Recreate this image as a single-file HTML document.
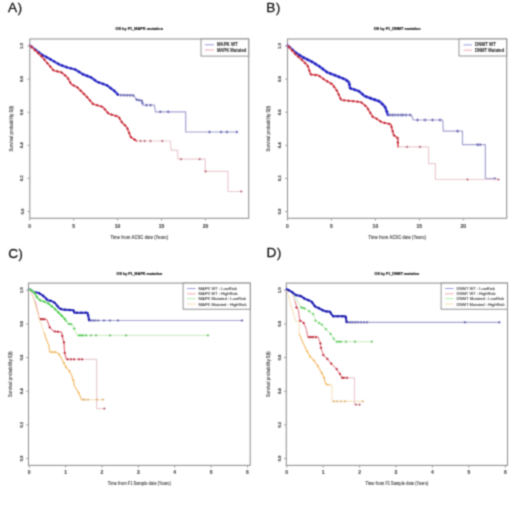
<!DOCTYPE html><html><head><meta charset="utf-8"><style>html,body{margin:0;padding:0;background:#fff;width:520px;height:508px;overflow:hidden}svg{display:block;font-family:"Liberation Sans",sans-serif}</style></head><body>
<svg width="520" height="508" viewBox="0 0 520 508">
<defs><filter id="bl" x="0" y="0" width="520" height="508" filterUnits="userSpaceOnUse" color-interpolation-filters="sRGB"><feConvolveMatrix order="3" kernelMatrix="0.0400 0.1200 0.0400 0.1200 0.3600 0.1200 0.0400 0.1200 0.0400" edgeMode="duplicate" preserveAlpha="true"/></filter></defs>
<g filter="url(#bl)">
<rect width="520" height="508" fill="#fff"/>
<rect x="29.8" y="39" width="218.9" height="179.3" fill="none" stroke="#959595" stroke-width="1.1"/>
<line x1="27.5" y1="211.5" x2="29.8" y2="211.5" stroke="#959595" stroke-width="0.9"/>
<text x="22" y="211.5" font-size="4.4" text-anchor="middle" fill="#505050" stroke="#505050" stroke-width="0.2" font-weight="bold" textLength="5.8" lengthAdjust="spacingAndGlyphs" transform="rotate(-90 22 211.5)" dominant-baseline="central">0.0</text>
<line x1="27.5" y1="178.42" x2="29.8" y2="178.42" stroke="#959595" stroke-width="0.9"/>
<text x="22" y="178.42" font-size="4.4" text-anchor="middle" fill="#505050" stroke="#505050" stroke-width="0.2" font-weight="bold" textLength="5.8" lengthAdjust="spacingAndGlyphs" transform="rotate(-90 22 178.42)" dominant-baseline="central">0.2</text>
<line x1="27.5" y1="145.34" x2="29.8" y2="145.34" stroke="#959595" stroke-width="0.9"/>
<text x="22" y="145.34" font-size="4.4" text-anchor="middle" fill="#505050" stroke="#505050" stroke-width="0.2" font-weight="bold" textLength="5.8" lengthAdjust="spacingAndGlyphs" transform="rotate(-90 22 145.34)" dominant-baseline="central">0.4</text>
<line x1="27.5" y1="112.26" x2="29.8" y2="112.26" stroke="#959595" stroke-width="0.9"/>
<text x="22" y="112.26" font-size="4.4" text-anchor="middle" fill="#505050" stroke="#505050" stroke-width="0.2" font-weight="bold" textLength="5.8" lengthAdjust="spacingAndGlyphs" transform="rotate(-90 22 112.26)" dominant-baseline="central">0.6</text>
<line x1="27.5" y1="79.18" x2="29.8" y2="79.18" stroke="#959595" stroke-width="0.9"/>
<text x="22" y="79.18" font-size="4.4" text-anchor="middle" fill="#505050" stroke="#505050" stroke-width="0.2" font-weight="bold" textLength="5.8" lengthAdjust="spacingAndGlyphs" transform="rotate(-90 22 79.18)" dominant-baseline="central">0.8</text>
<line x1="27.5" y1="46.1" x2="29.8" y2="46.1" stroke="#959595" stroke-width="0.9"/>
<text x="22" y="46.1" font-size="4.4" text-anchor="middle" fill="#505050" stroke="#505050" stroke-width="0.2" font-weight="bold" textLength="5.8" lengthAdjust="spacingAndGlyphs" transform="rotate(-90 22 46.1)" dominant-baseline="central">1.0</text>
<line x1="29.72" y1="218.3" x2="29.72" y2="220.6" stroke="#959595" stroke-width="0.9"/>
<text x="29.72" y="226.3" font-size="5" text-anchor="middle" fill="#505050" stroke="#505050" stroke-width="0.15" font-weight="bold" dominant-baseline="central">0</text>
<line x1="73.65" y1="218.3" x2="73.65" y2="220.6" stroke="#959595" stroke-width="0.9"/>
<text x="73.65" y="226.3" font-size="5" text-anchor="middle" fill="#505050" stroke="#505050" stroke-width="0.15" font-weight="bold" dominant-baseline="central">5</text>
<line x1="117.58" y1="218.3" x2="117.58" y2="220.6" stroke="#959595" stroke-width="0.9"/>
<text x="117.58" y="226.3" font-size="5" text-anchor="middle" fill="#505050" stroke="#505050" stroke-width="0.15" font-weight="bold" dominant-baseline="central">10</text>
<line x1="161.51" y1="218.3" x2="161.51" y2="220.6" stroke="#959595" stroke-width="0.9"/>
<text x="161.51" y="226.3" font-size="5" text-anchor="middle" fill="#505050" stroke="#505050" stroke-width="0.15" font-weight="bold" dominant-baseline="central">15</text>
<line x1="205.44" y1="218.3" x2="205.44" y2="220.6" stroke="#959595" stroke-width="0.9"/>
<text x="205.44" y="226.3" font-size="5" text-anchor="middle" fill="#505050" stroke="#505050" stroke-width="0.15" font-weight="bold" dominant-baseline="central">20</text>
<text x="139.25" y="28.4" font-size="4.4" text-anchor="middle" fill="#222" stroke="#222" stroke-width="0.2" font-weight="bold" textLength="47.6" lengthAdjust="spacingAndGlyphs" dominant-baseline="central">OS by F1_MAPK mutation</text>
<text x="139.25" y="237.3" font-size="4.5" text-anchor="middle" fill="#555" stroke="#555" stroke-width="0.05" font-weight="bold" textLength="57.7" lengthAdjust="spacingAndGlyphs" dominant-baseline="central">Time from ACSC date (Years)</text>
<text x="11.3" y="128.65" font-size="4.5" text-anchor="middle" fill="#555" stroke="#555" stroke-width="0.05" font-weight="bold" textLength="45.7" lengthAdjust="spacingAndGlyphs" transform="rotate(-90 11.3 128.65)" dominant-baseline="central">Survival probability S(t)</text>
<rect x="201" y="39" width="47.7" height="17.1" fill="#fff" stroke="#888" stroke-width="0.9"/>
<line x1="204.8" y1="44.8" x2="214" y2="44.8" stroke="#9090e0" stroke-width="0.9"/>
<text x="216.9" y="44.8" font-size="4.6" text-anchor="start" fill="#333" stroke="#333" stroke-width="0.1" font-weight="bold" textLength="20.8" lengthAdjust="spacingAndGlyphs" dominant-baseline="central">MAPK WT</text>
<line x1="204.8" y1="50" x2="214" y2="50" stroke="#f0a0a8" stroke-width="0.9"/>
<text x="216.9" y="50" font-size="4.6" text-anchor="start" fill="#333" stroke="#333" stroke-width="0.1" font-weight="bold" textLength="29.4" lengthAdjust="spacingAndGlyphs" dominant-baseline="central">MAPK Mutated</text>
<path d="M30 45.5 L41.8 54.7 L47.7 57.7 L59.5 64.6 L67.4 67.5 L75.2 69.5 L83.1 74.4 L91 77.4 L96.9 81.7 L106.7 85.2 L114.6 91.1 L118 94.8 H133.7 V95.7 L136.7 99.7 L141.6 100.7 L142.6 105.2 L154.4 105.2 L155.4 111.8 H185.3 V111.8 H185.7 V132 H237.3 V132" fill="none" stroke="#a6a4d2" stroke-width="1.2" stroke-linejoin="round"/>
<path d="M30 45.5 L41.8 54.7 L47.7 57.7 L59.5 64.6 L67.4 67.5 L75.2 69.5 L83.1 74.4 L91 77.4 L96.9 81.7 L106.7 85.2 L114.6 91.1 L118 94.8" fill="none" stroke="#4040d8" stroke-width="2.2" stroke-linejoin="round" stroke-linecap="round"/>
<path d="M30.37 46.88h2.8M31.77 45.48v2.8M33.92 49.65h2.8M35.32 48.25v2.8M37.47 52.42h2.8M38.87 51.02v2.8M41.1 55.06h2.8M42.5 53.66v2.8M45.11 57.1h2.8M46.51 55.7v2.8M49.04 59.3h2.8M50.44 57.9v2.8M52.92 61.57h2.8M54.32 60.17v2.8M56.8 63.84h2.8M58.2 62.44v2.8M60.92 65.63h2.8M62.32 64.23v2.8M65.14 67.18h2.8M66.54 65.78v2.8M69.47 68.39h2.8M70.87 66.99v2.8M73.83 69.52h2.8M75.23 68.12v2.8M77.65 71.89h2.8M79.05 70.49v2.8M81.47 74.26h2.8M82.87 72.86v2.8M85.66 75.9h2.8M87.06 74.5v2.8M89.83 77.57h2.8M91.23 76.17v2.8M93.47 80.22h2.8M94.87 78.82v2.8M97.37 82.37h2.8M98.77 80.97v2.8M101.61 83.88h2.8M103.01 82.48v2.8M105.76 85.55h2.8M107.16 84.15v2.8M109.37 88.24h2.8M110.77 86.84v2.8M112.97 90.93h2.8M114.37 89.53v2.8M116.05 94.21h2.8M117.45 92.81v2.8" stroke="#1c1cac" stroke-width="0.9" fill="none"/>
<path d="M119.6 95.2h2.8M121 93.8v2.8M122.6 95.3h2.8M124 93.9v2.8M125.6 95.4h2.8M127 94v2.8M128.6 95.5h2.8M130 94.1v2.8M131.6 95.6h2.8M133 94.2v2.8M135.3 99.7h2.8M136.7 98.3v2.8M137.6 100.2h2.8M139 98.8v2.8M140.2 100.7h2.8M141.6 99.3v2.8M141.2 103h2.8M142.6 101.6v2.8M145.1 105.2h2.8M146.5 103.8v2.8M149.1 105.2h2.8M150.5 103.8v2.8M158.9 111.8h2.8M160.3 110.4v2.8M166.8 111.8h2.8M168.2 110.4v2.8M208.1 132h2.8M209.5 130.6v2.8M219.7 132h2.8M221.1 130.6v2.8M225.6 132h2.8M227 130.6v2.8M235.5 132h2.8M236.9 130.6v2.8" stroke="#6262b0" stroke-width="0.9" fill="none"/>
<path d="M30 45.5 L41.8 56.7 L47.7 63.6 L53.6 70.5 L61.5 72.4 L67.4 77.4 L71.3 84.3 L77.2 87.2 L83.1 93.1 L87 97 L93 104 L102.8 106.9 L108.7 113.8 L118.6 116.7 L121.9 122.3 L126.9 127.2 L130.8 137.1 L136.7 141 H170.6 V141 L171 150.2 L177.5 150.2 L177.9 159.1 H204.8 V159.1 H205.2 V171.4 H227.7 V171.4 H228 V191.5 H241.2 V191.5" fill="none" stroke="#ebcdd2" stroke-width="1.2" stroke-linejoin="round"/>
<path d="M30 45.5 L41.8 56.7 L47.7 63.6 L53.6 70.5 L61.5 72.4 L67.4 77.4 L71.3 84.3 L77.2 87.2 L83.1 93.1 L87 97 L93 104 L102.8 106.9 L108.7 113.8 L118.6 116.7 L121.9 122.3 L126.9 127.2 L130.8 137.1 L136.7 141" fill="none" stroke="#e05a66" stroke-width="1.6" stroke-linejoin="round" stroke-linecap="round"/>
<path d="M30.43 47.05h2.4M31.63 45.85v2.4M33.7 50.15h2.4M34.9 48.95v2.4M36.96 53.24h2.4M38.16 52.04v2.4M40.22 56.34h2.4M41.42 55.14v2.4M43.19 59.73h2.4M44.39 58.53v2.4M46.11 63.15h2.4M47.31 61.95v2.4M49.04 66.57h2.4M50.24 65.37v2.4M51.96 69.99h2.4M53.16 68.79v2.4M56.12 71.39h2.4M57.32 70.19v2.4M60.45 72.53h2.4M61.65 71.33v2.4M63.88 75.44h2.4M65.08 74.24v2.4M66.92 78.68h2.4M68.12 77.48v2.4M69.14 82.59h2.4M70.34 81.39v2.4M72.38 85.42h2.4M73.58 84.22v2.4M76.33 87.53h2.4M77.53 86.33v2.4M79.51 90.71h2.4M80.71 89.51v2.4M82.69 93.89h2.4M83.89 92.69v2.4M85.87 97.08h2.4M87.07 95.88v2.4M88.8 100.5h2.4M90 99.3v2.4M91.73 103.91h2.4M92.93 102.71v2.4M96.01 105.24h2.4M97.21 104.04v2.4M100.32 106.52h2.4M101.52 105.32v2.4M103.66 109.31h2.4M104.86 108.11v2.4M106.58 112.73h2.4M107.78 111.53v2.4M110.46 114.67h2.4M111.66 113.47v2.4M114.78 115.93h2.4M115.98 114.73v2.4M118.3 118.23h2.4M119.5 117.03v2.4M120.58 122.1h2.4M121.78 120.9v2.4M123.75 125.29h2.4M124.95 124.09v2.4M126.35 128.85h2.4M127.55 127.65v2.4M128 133.03h2.4M129.2 131.83v2.4M129.71 137.17h2.4M130.91 135.97v2.4M133.46 139.65h2.4M134.66 138.45v2.4" stroke="#b8202c" stroke-width="0.9" fill="none"/>
<path d="M139.4 141h2.4M140.6 139.8v2.4M143.4 141h2.4M144.6 139.8v2.4M149.3 141h2.4M150.5 139.8v2.4M161.1 141h2.4M162.3 139.8v2.4M179.8 159.1h2.4M181 157.9v2.4M198.5 159.1h2.4M199.7 157.9v2.4M204.4 171.4h2.4M205.6 170.2v2.4M240 191.5h2.4M241.2 190.3v2.4" stroke="#b86670" stroke-width="0.9" fill="none"/>
<rect x="287.5" y="39" width="219.2" height="179.3" fill="none" stroke="#959595" stroke-width="1.1"/>
<line x1="285.2" y1="211.5" x2="287.5" y2="211.5" stroke="#959595" stroke-width="0.9"/>
<text x="279.7" y="211.5" font-size="4.4" text-anchor="middle" fill="#505050" stroke="#505050" stroke-width="0.2" font-weight="bold" textLength="5.8" lengthAdjust="spacingAndGlyphs" transform="rotate(-90 279.7 211.5)" dominant-baseline="central">0.0</text>
<line x1="285.2" y1="178.42" x2="287.5" y2="178.42" stroke="#959595" stroke-width="0.9"/>
<text x="279.7" y="178.42" font-size="4.4" text-anchor="middle" fill="#505050" stroke="#505050" stroke-width="0.2" font-weight="bold" textLength="5.8" lengthAdjust="spacingAndGlyphs" transform="rotate(-90 279.7 178.42)" dominant-baseline="central">0.2</text>
<line x1="285.2" y1="145.34" x2="287.5" y2="145.34" stroke="#959595" stroke-width="0.9"/>
<text x="279.7" y="145.34" font-size="4.4" text-anchor="middle" fill="#505050" stroke="#505050" stroke-width="0.2" font-weight="bold" textLength="5.8" lengthAdjust="spacingAndGlyphs" transform="rotate(-90 279.7 145.34)" dominant-baseline="central">0.4</text>
<line x1="285.2" y1="112.26" x2="287.5" y2="112.26" stroke="#959595" stroke-width="0.9"/>
<text x="279.7" y="112.26" font-size="4.4" text-anchor="middle" fill="#505050" stroke="#505050" stroke-width="0.2" font-weight="bold" textLength="5.8" lengthAdjust="spacingAndGlyphs" transform="rotate(-90 279.7 112.26)" dominant-baseline="central">0.6</text>
<line x1="285.2" y1="79.18" x2="287.5" y2="79.18" stroke="#959595" stroke-width="0.9"/>
<text x="279.7" y="79.18" font-size="4.4" text-anchor="middle" fill="#505050" stroke="#505050" stroke-width="0.2" font-weight="bold" textLength="5.8" lengthAdjust="spacingAndGlyphs" transform="rotate(-90 279.7 79.18)" dominant-baseline="central">0.8</text>
<line x1="285.2" y1="46.1" x2="287.5" y2="46.1" stroke="#959595" stroke-width="0.9"/>
<text x="279.7" y="46.1" font-size="4.4" text-anchor="middle" fill="#505050" stroke="#505050" stroke-width="0.2" font-weight="bold" textLength="5.8" lengthAdjust="spacingAndGlyphs" transform="rotate(-90 279.7 46.1)" dominant-baseline="central">1.0</text>
<line x1="287.5" y1="218.3" x2="287.5" y2="220.6" stroke="#959595" stroke-width="0.9"/>
<text x="287.5" y="226.3" font-size="5" text-anchor="middle" fill="#505050" stroke="#505050" stroke-width="0.15" font-weight="bold" dominant-baseline="central">0</text>
<line x1="331.45" y1="218.3" x2="331.45" y2="220.6" stroke="#959595" stroke-width="0.9"/>
<text x="331.45" y="226.3" font-size="5" text-anchor="middle" fill="#505050" stroke="#505050" stroke-width="0.15" font-weight="bold" dominant-baseline="central">5</text>
<line x1="375.4" y1="218.3" x2="375.4" y2="220.6" stroke="#959595" stroke-width="0.9"/>
<text x="375.4" y="226.3" font-size="5" text-anchor="middle" fill="#505050" stroke="#505050" stroke-width="0.15" font-weight="bold" dominant-baseline="central">10</text>
<line x1="419.35" y1="218.3" x2="419.35" y2="220.6" stroke="#959595" stroke-width="0.9"/>
<text x="419.35" y="226.3" font-size="5" text-anchor="middle" fill="#505050" stroke="#505050" stroke-width="0.15" font-weight="bold" dominant-baseline="central">15</text>
<line x1="463.3" y1="218.3" x2="463.3" y2="220.6" stroke="#959595" stroke-width="0.9"/>
<text x="463.3" y="226.3" font-size="5" text-anchor="middle" fill="#505050" stroke="#505050" stroke-width="0.15" font-weight="bold" dominant-baseline="central">20</text>
<text x="397.1" y="28.3" font-size="4.4" text-anchor="middle" fill="#222" stroke="#222" stroke-width="0.2" font-weight="bold" textLength="46.9" lengthAdjust="spacingAndGlyphs" dominant-baseline="central">OS by F1_DNMT mutation</text>
<text x="397.1" y="237.3" font-size="4.5" text-anchor="middle" fill="#555" stroke="#555" stroke-width="0.05" font-weight="bold" textLength="57.7" lengthAdjust="spacingAndGlyphs" dominant-baseline="central">Time from ACSC date (Years)</text>
<text x="269" y="128.65" font-size="4.5" text-anchor="middle" fill="#555" stroke="#555" stroke-width="0.05" font-weight="bold" textLength="45.7" lengthAdjust="spacingAndGlyphs" transform="rotate(-90 269 128.65)" dominant-baseline="central">Survival probability S(t)</text>
<rect x="459" y="39" width="47.7" height="17" fill="#fff" stroke="#888" stroke-width="0.9"/>
<line x1="463.5" y1="44.9" x2="471.9" y2="44.9" stroke="#9090e0" stroke-width="0.9"/>
<text x="475.1" y="44.9" font-size="4.6" text-anchor="start" fill="#333" stroke="#333" stroke-width="0.1" font-weight="bold" textLength="20.8" lengthAdjust="spacingAndGlyphs" dominant-baseline="central">DNMT WT</text>
<line x1="463.5" y1="50.2" x2="471.9" y2="50.2" stroke="#f0a0a8" stroke-width="0.9"/>
<text x="475.1" y="50.2" font-size="4.6" text-anchor="start" fill="#333" stroke="#333" stroke-width="0.1" font-weight="bold" textLength="29.1" lengthAdjust="spacingAndGlyphs" dominant-baseline="central">DNMT Mutated</text>
<path d="M287.6 45.5 L295.8 52.8 L303.7 57.7 L311.6 61.6 L319.5 66.5 L327.3 72.4 L335.2 75.4 L345.1 79.3 L349 82.3 L350 88.2 L358.8 91.1 L364.7 96.1 L372.6 99 L378.5 101 L379.9 101.7 L384.9 106.6 L386.8 111.5 L387.8 115 H411.4 V115 L413.4 120 H442.7 V120 L443.3 131.2 H462 V131.2 H462.5 V144.7 H485.2 V144.7 H485.4 V178.7 L494.9 178.7" fill="none" stroke="#a6a4d2" stroke-width="1.2" stroke-linejoin="round"/>
<path d="M287.6 45.5 L295.8 52.8 L303.7 57.7 L311.6 61.6 L319.5 66.5 L327.3 72.4 L335.2 75.4 L345.1 79.3 L349 82.3 L350 88.2 L358.8 91.1 L364.7 96.1 L372.6 99 L378.5 101 L379.9 101.7 L384.9 106.6 L386.8 111.5 L387.8 115" fill="none" stroke="#4040d8" stroke-width="2.4" stroke-linejoin="round" stroke-linecap="round"/>
<path d="M287.78 47h3M289.28 45.5v3M291.14 49.99h3M292.64 48.49v3M294.53 52.94h3M296.03 51.44v3M298.35 55.31h3M299.85 53.81v3M302.18 57.69h3M303.68 56.19v3M306.21 59.68h3M307.71 58.18v3M310.24 61.69h3M311.74 60.19v3M314.06 64.06h3M315.56 62.56v3M317.89 66.43h3M319.39 64.93v3M321.48 69.14h3M322.98 67.64v3M325.07 71.85h3M326.57 70.35v3M329.15 73.67h3M330.65 72.17v3M333.36 75.27h3M334.86 73.77v3M337.55 76.92h3M339.05 75.42v3M341.74 78.57h3M343.24 77.07v3M345.58 80.82h3M347.08 79.32v3M347.85 84.35h3M349.35 82.85v3M349.06 88.39h3M350.56 86.89v3M353.34 89.79h3M354.84 88.29v3M357.55 91.31h3M359.05 89.81v3M360.98 94.22h3M362.48 92.72v3M364.7 96.65h3M366.2 95.15v3M368.92 98.2h3M370.42 96.7v3M373.16 99.7h3M374.66 98.2v3M377.4 101.2h3M378.9 99.7v3M380.82 104.07h3M382.32 102.57v3M383.72 107.42h3M385.22 105.92v3M385.33 111.62h3M386.83 110.12v3" stroke="#1c1cac" stroke-width="0.9" fill="none"/>
<path d="M388.5 115h3M390 113.5v3M391 115h3M392.5 113.5v3M393.5 115h3M395 113.5v3M396.5 115h3M398 113.5v3M399.5 115h3M401 113.5v3M401.5 115h3M403 113.5v3M404.5 115h3M406 113.5v3M408.5 115h3M410 113.5v3M416 120h3M417.5 118.5v3M423.5 120h3M425 118.5v3M431 120h3M432.5 118.5v3M438.5 120h3M440 118.5v3M456 131.2h3M457.5 129.7v3M476 144.7h3M477.5 143.2v3M478.5 144.7h3M480 143.2v3M493.4 178.7h3M494.9 177.2v3" stroke="#6262b0" stroke-width="0.9" fill="none"/>
<path d="M287.6 45.5 L295.8 54.7 L301.7 59.7 L307.7 65.6 L310.6 74.4 L318.5 75.4 L325.4 80.3 L332.3 84.3 L337.2 91.1 L341.1 100 L351 101 L360.8 102 L366.7 106.9 L372.6 116.7 L376 118.4 L381.9 122.3 L390.8 124.3 L393.7 135.1 L397.7 138.1 L398 146.9 H428.2 V146.9 H428.6 V163.6 L435 163.6 H435.4 V179.5 H498.4 V179.5" fill="none" stroke="#ebcdd2" stroke-width="1.2" stroke-linejoin="round"/>
<path d="M287.6 45.5 L295.8 54.7 L301.7 59.7 L307.7 65.6 L310.6 74.4 L318.5 75.4 L325.4 80.3 L332.3 84.3 L337.2 91.1 L341.1 100 L351 101 L360.8 102 L366.7 106.9 L372.6 116.7 L376 118.4 L381.9 122.3 L390.8 124.3 L393.7 135.1 L397.7 138.1 L398 146.9" fill="none" stroke="#e05a66" stroke-width="1.6" stroke-linejoin="round" stroke-linecap="round"/>
<path d="M287.9 47.18h2.4M289.1 45.98v2.4M290.89 50.54h2.4M292.09 49.34v2.4M293.89 53.9h2.4M295.09 52.7v2.4M297.21 56.92h2.4M298.41 55.72v2.4M300.64 59.83h2.4M301.84 58.63v2.4M303.85 62.99h2.4M305.05 61.79v2.4M306.74 66.34h2.4M307.94 65.14v2.4M308.15 70.61h2.4M309.35 69.41v2.4M309.91 74.46h2.4M311.11 73.26v2.4M314.37 75.03h2.4M315.57 73.83v2.4M318.56 76.3h2.4M319.76 75.1v2.4M322.23 78.9h2.4M323.43 77.7v2.4M326 81.35h2.4M327.2 80.15v2.4M329.9 83.6h2.4M331.1 82.4v2.4M332.92 86.82h2.4M334.12 85.62v2.4M335.55 90.47h2.4M336.75 89.27v2.4M337.5 94.52h2.4M338.7 93.32v2.4M339.3 98.64h2.4M340.5 97.44v2.4M342.9 100.3h2.4M344.1 99.1v2.4M347.37 100.75h2.4M348.57 99.55v2.4M351.85 101.21h2.4M353.05 100.01v2.4M356.33 101.67h2.4M357.53 100.47v2.4M360.53 102.77h2.4M361.73 101.57v2.4M363.99 105.65h2.4M365.19 104.45v2.4M366.81 109.08h2.4M368.01 107.88v2.4M369.13 112.93h2.4M370.33 111.73v2.4M371.49 116.75h2.4M372.69 115.55v2.4M375.47 118.84h2.4M376.67 117.64v2.4M379.22 121.32h2.4M380.42 120.12v2.4M383.36 122.9h2.4M384.56 121.7v2.4M387.75 123.88h2.4M388.95 122.68v2.4M390.28 126.82h2.4M391.48 125.62v2.4M391.44 131.16h2.4M392.64 129.96v2.4M392.84 135.35h2.4M394.04 134.15v2.4M396.44 138.05h2.4M397.64 136.85v2.4M396.65 142.52h2.4M397.85 141.32v2.4" stroke="#b8202c" stroke-width="0.9" fill="none"/>
<path d="M405.8 146.9h2.4M407 145.7v2.4M418.8 146.9h2.4M420 145.7v2.4M466.3 179.5h2.4M467.5 178.3v2.4M497.2 179.5h2.4M498.4 178.3v2.4" stroke="#b86670" stroke-width="0.9" fill="none"/>
<rect x="28.5" y="283.1" width="221.7" height="182.3" fill="none" stroke="#959595" stroke-width="1.1"/>
<line x1="26.2" y1="458.5" x2="28.5" y2="458.5" stroke="#959595" stroke-width="0.9"/>
<text x="21.6" y="458.5" font-size="4.4" text-anchor="middle" fill="#505050" stroke="#505050" stroke-width="0.2" font-weight="bold" textLength="5.8" lengthAdjust="spacingAndGlyphs" transform="rotate(-90 21.6 458.5)" dominant-baseline="central">0.0</text>
<line x1="26.2" y1="424.86" x2="28.5" y2="424.86" stroke="#959595" stroke-width="0.9"/>
<text x="21.6" y="424.86" font-size="4.4" text-anchor="middle" fill="#505050" stroke="#505050" stroke-width="0.2" font-weight="bold" textLength="5.8" lengthAdjust="spacingAndGlyphs" transform="rotate(-90 21.6 424.86)" dominant-baseline="central">0.2</text>
<line x1="26.2" y1="391.22" x2="28.5" y2="391.22" stroke="#959595" stroke-width="0.9"/>
<text x="21.6" y="391.22" font-size="4.4" text-anchor="middle" fill="#505050" stroke="#505050" stroke-width="0.2" font-weight="bold" textLength="5.8" lengthAdjust="spacingAndGlyphs" transform="rotate(-90 21.6 391.22)" dominant-baseline="central">0.4</text>
<line x1="26.2" y1="357.58" x2="28.5" y2="357.58" stroke="#959595" stroke-width="0.9"/>
<text x="21.6" y="357.58" font-size="4.4" text-anchor="middle" fill="#505050" stroke="#505050" stroke-width="0.2" font-weight="bold" textLength="5.8" lengthAdjust="spacingAndGlyphs" transform="rotate(-90 21.6 357.58)" dominant-baseline="central">0.6</text>
<line x1="26.2" y1="323.94" x2="28.5" y2="323.94" stroke="#959595" stroke-width="0.9"/>
<text x="21.6" y="323.94" font-size="4.4" text-anchor="middle" fill="#505050" stroke="#505050" stroke-width="0.2" font-weight="bold" textLength="5.8" lengthAdjust="spacingAndGlyphs" transform="rotate(-90 21.6 323.94)" dominant-baseline="central">0.8</text>
<line x1="26.2" y1="290.3" x2="28.5" y2="290.3" stroke="#959595" stroke-width="0.9"/>
<text x="21.6" y="290.3" font-size="4.4" text-anchor="middle" fill="#505050" stroke="#505050" stroke-width="0.2" font-weight="bold" textLength="5.8" lengthAdjust="spacingAndGlyphs" transform="rotate(-90 21.6 290.3)" dominant-baseline="central">1.0</text>
<line x1="29.25" y1="465.4" x2="29.25" y2="467.7" stroke="#959595" stroke-width="0.9"/>
<text x="29.25" y="472.4" font-size="5" text-anchor="middle" fill="#505050" stroke="#505050" stroke-width="0.15" font-weight="bold" dominant-baseline="central">0</text>
<line x1="65.62" y1="465.4" x2="65.62" y2="467.7" stroke="#959595" stroke-width="0.9"/>
<text x="65.62" y="472.4" font-size="5" text-anchor="middle" fill="#505050" stroke="#505050" stroke-width="0.15" font-weight="bold" dominant-baseline="central">1</text>
<line x1="102" y1="465.4" x2="102" y2="467.7" stroke="#959595" stroke-width="0.9"/>
<text x="102" y="472.4" font-size="5" text-anchor="middle" fill="#505050" stroke="#505050" stroke-width="0.15" font-weight="bold" dominant-baseline="central">2</text>
<line x1="138.38" y1="465.4" x2="138.38" y2="467.7" stroke="#959595" stroke-width="0.9"/>
<text x="138.38" y="472.4" font-size="5" text-anchor="middle" fill="#505050" stroke="#505050" stroke-width="0.15" font-weight="bold" dominant-baseline="central">3</text>
<line x1="174.75" y1="465.4" x2="174.75" y2="467.7" stroke="#959595" stroke-width="0.9"/>
<text x="174.75" y="472.4" font-size="5" text-anchor="middle" fill="#505050" stroke="#505050" stroke-width="0.15" font-weight="bold" dominant-baseline="central">4</text>
<line x1="211.12" y1="465.4" x2="211.12" y2="467.7" stroke="#959595" stroke-width="0.9"/>
<text x="211.12" y="472.4" font-size="5" text-anchor="middle" fill="#505050" stroke="#505050" stroke-width="0.15" font-weight="bold" dominant-baseline="central">5</text>
<line x1="247.5" y1="465.4" x2="247.5" y2="467.7" stroke="#959595" stroke-width="0.9"/>
<text x="247.5" y="472.4" font-size="5" text-anchor="middle" fill="#505050" stroke="#505050" stroke-width="0.15" font-weight="bold" dominant-baseline="central">6</text>
<text x="139.35" y="273.2" font-size="4.4" text-anchor="middle" fill="#222" stroke="#222" stroke-width="0.2" font-weight="bold" textLength="45.7" lengthAdjust="spacingAndGlyphs" dominant-baseline="central">OS by F1_MAPK mutation</text>
<text x="139.35" y="483.5" font-size="4.5" text-anchor="middle" fill="#555" stroke="#555" stroke-width="0.05" font-weight="bold" textLength="63" lengthAdjust="spacingAndGlyphs" dominant-baseline="central">Time from F1 Sample date (Years)</text>
<text x="10.5" y="374.25" font-size="4.5" text-anchor="middle" fill="#555" stroke="#555" stroke-width="0.05" font-weight="bold" textLength="45.7" lengthAdjust="spacingAndGlyphs" transform="rotate(-90 10.5 374.25)" dominant-baseline="central">Survival probability S(t)</text>
<rect x="183.1" y="283.1" width="67.1" height="26.1" fill="#fff" stroke="#888" stroke-width="0.9"/>
<line x1="187.1" y1="288.5" x2="195.6" y2="288.5" stroke="#9090e0" stroke-width="0.9"/>
<text x="198.5" y="288.5" font-size="4.3" text-anchor="start" fill="#4a4a4a" stroke="#4a4a4a" stroke-width="0.12" textLength="38.4" lengthAdjust="spacingAndGlyphs" dominant-baseline="central">MAPK WT : LowRisk</text>
<line x1="187.1" y1="293.8" x2="195.6" y2="293.8" stroke="#f0a0a8" stroke-width="0.9"/>
<text x="198.5" y="293.8" font-size="4.3" text-anchor="start" fill="#4a4a4a" stroke="#4a4a4a" stroke-width="0.12" textLength="39" lengthAdjust="spacingAndGlyphs" dominant-baseline="central">MAPK WT : HighRisk</text>
<line x1="187.1" y1="298.6" x2="195.6" y2="298.6" stroke="#a8eca8" stroke-width="0.9"/>
<text x="198.5" y="298.6" font-size="4.3" text-anchor="start" fill="#4a4a4a" stroke="#4a4a4a" stroke-width="0.12" textLength="47.6" lengthAdjust="spacingAndGlyphs" dominant-baseline="central">MAPK Mutated : LowRisk</text>
<line x1="187.1" y1="304" x2="195.6" y2="304" stroke="#f8dca8" stroke-width="0.9"/>
<text x="198.5" y="304" font-size="4.3" text-anchor="start" fill="#4a4a4a" stroke="#4a4a4a" stroke-width="0.12" textLength="48" lengthAdjust="spacingAndGlyphs" dominant-baseline="central">MAPK Mutated : HighRisk</text>
<path d="M29.4 289.1 L34.3 292.3 L38.2 292.7 L42.2 295.1 L45.3 297.8 L47.7 300.2 L51.6 301 L54.8 302.9 L57.1 305.7 L59.5 308.4 L62.6 309.6 L73.5 310.3 L74.2 312.7 H87.6 V312.7 L89.2 320.5 H242 V320.5" fill="none" stroke="#a6a4d2" stroke-width="1.2" stroke-linejoin="round"/>
<path d="M29.4 289.1 L34.3 292.3 L38.2 292.7 L42.2 295.1 L45.3 297.8 L47.7 300.2 L51.6 301 L54.8 302.9 L57.1 305.7 L59.5 308.4 L62.6 309.6 L73.5 310.3 L74.2 312.7 H87.6 V312.7 L89.2 320.5" fill="none" stroke="#3030c8" stroke-width="2.0" stroke-linejoin="round" stroke-linecap="round"/>
<path d="M29.98 290.33h2.6M31.28 289.03v2.6M33.89 292.39h2.6M35.19 291.09v2.6M38.17 293.46h2.6M39.47 292.16v2.6M41.89 295.96h2.6M43.19 294.66v2.6M45.2 299h2.6M46.5 297.7v2.6M49.15 300.76h2.6M50.45 299.46v2.6M53.16 302.7h2.6M54.46 301.4v2.6M56.12 306.06h2.6M57.42 304.76v2.6M59.48 308.89h2.6M60.78 307.59v2.6M63.84 309.76h2.6M65.14 308.46v2.6M68.33 310.05h2.6M69.63 308.75v2.6M72.37 310.9h2.6M73.67 309.6v2.6M75.52 312.7h2.6M76.82 311.4v2.6M80.02 312.7h2.6M81.32 311.4v2.6M84.52 312.7h2.6M85.82 311.4v2.6M86.85 315.37h2.6M88.15 314.07v2.6M87.75 319.77h2.6M89.05 318.47v2.6" stroke="#1c1ca0" stroke-width="0.9" fill="none"/>
<path d="M89.7 320.5h2.6M91 319.2v2.6M91.7 320.5h2.6M93 319.2v2.6M93.7 320.5h2.6M95 319.2v2.6M96.7 320.5h2.6M98 319.2v2.6M102.7 320.5h2.6M104 319.2v2.6M108.7 320.5h2.6M110 319.2v2.6M116.7 320.5h2.6M118 319.2v2.6M240.7 320.5h2.6M242 319.2v2.6" stroke="#6262b0" stroke-width="0.9" fill="none"/>
<path d="M29.4 289.1 L31.1 292.3 L33.5 296.2 L35.1 301.7 L36.7 308 L38.2 313.6 L39.4 319.2 L46.3 319.2 L48.1 322.6 L49.7 327.3 L53.6 331.3 L61.5 332 L62.3 336 L63.9 342.3 L64.7 352.9 L66.3 359.3 H96.2 V359.3 H96.6 V408.6 L104.4 408.6" fill="none" stroke="#ebcdd2" stroke-width="1.2" stroke-linejoin="round"/>
<path d="M35.1 301.7 L36.7 308 L38.2 313.6 L39.4 319.2 L46.3 319.2 L48.1 322.6 L49.7 327.3 L53.6 331.3 L61.5 332 L62.3 336 L63.9 342.3 L64.7 352.9 L66.3 359.3" fill="none" stroke="#e05a66" stroke-width="0.9" stroke-linejoin="round" stroke-linecap="round"/>
<path d="M39.3 319.2h2.4M40.5 318v2.4M40.8 319.2h2.4M42 318v2.4M42.8 319.2h2.4M44 318v2.4M48.5 327.3h2.4M49.7 326.1v2.4M53.8 331.5h2.4M55 330.3v2.4M56.8 331.8h2.4M58 330.6v2.4M61.1 336h2.4M62.3 334.8v2.4M62.7 342.3h2.4M63.9 341.1v2.4M63.5 352.9h2.4M64.7 351.7v2.4M66.6 359.3h2.4M67.8 358.1v2.4M69.8 359.3h2.4M71 358.1v2.4M72.9 359.3h2.4M74.1 358.1v2.4M77.7 359.3h2.4M78.9 358.1v2.4M80.8 359.3h2.4M82 358.1v2.4" stroke="#b8202c" stroke-width="0.9" fill="none"/>
<path d="M103.2 408.6h2.4M104.4 407.4v2.4" stroke="#b86670" stroke-width="0.9" fill="none"/>
<path d="M29.4 289.1 L31.1 292.3 L32.7 296.2 L34.5 302 L36.5 309 L38.5 316 L40.2 322 L41.8 325.7 L44.2 332.8 L46.5 339.9 L48.9 345.4 L49.7 352.1 L56 352.1 L59.2 354.4 L61.5 358.4 L63.9 363.1 L65.9 367 L69.4 371 L71.8 375.7 L73.3 380.4 L74.5 386 L76.2 388.8 L78.6 392.8 L81.5 399.6 H103 V399.6" fill="none" stroke="#f8e6c6" stroke-width="1.2" stroke-linejoin="round"/>
<path d="M44.2 332.8 L46.5 339.9 L48.9 345.4 L49.7 352.1 L56 352.1 L59.2 354.4 L61.5 358.4 L63.9 363.1 L65.9 367 L69.4 371 L71.8 375.7 L73.3 380.4 L74.5 386 L76.2 388.8 L78.6 392.8 L81.5 399.6" fill="none" stroke="#f2b45a" stroke-width="0.9" stroke-linejoin="round" stroke-linecap="round"/>
<path d="M50.8 352.1h2.4M52 350.9v2.4M53.8 352.1h2.4M55 350.9v2.4M58 354.4h2.4M59.2 353.2v2.4M62.7 363.1h2.4M63.9 361.9v2.4M64.7 367h2.4M65.9 365.8v2.4M68.2 371h2.4M69.4 369.8v2.4M72.1 380.4h2.4M73.3 379.2v2.4M77.4 392.8h2.4M78.6 391.6v2.4" stroke="#f2bc66" stroke-width="0.9" fill="none"/>
<path d="M81.8 399.6h2.4M83 398.4v2.4M83.8 399.6h2.4M85 398.4v2.4M86.8 399.6h2.4M88 398.4v2.4M95.8 399.6h2.4M97 398.4v2.4M101.8 399.6h2.4M103 398.4v2.4" stroke="#dcb478" stroke-width="0.9" fill="none"/>
<path d="M29.4 289.1 L34.3 292.3 L37.4 297.8 L40.6 300.6 L44.5 301.7 L48.5 303.7 L51.6 306.1 L54.8 308.8 L57.9 312 L61.1 315.1 L64.2 318.3 L66.6 321.4 L67.9 323.7 L72.7 324.5 L74.2 328.5 L77.4 335.4 H208 V335.4" fill="none" stroke="#d2f0ca" stroke-width="1.2" stroke-linejoin="round"/>
<path d="M29.4 289.1 L34.3 292.3 L37.4 297.8 L40.6 300.6 L44.5 301.7 L48.5 303.7 L51.6 306.1 L54.8 308.8 L57.9 312 L61.1 315.1 L64.2 318.3 L66.6 321.4" fill="none" stroke="#60dc60" stroke-width="1.5" stroke-linejoin="round" stroke-linecap="round"/>
<path d="M67.8 323.9h2.4M69 322.7v2.4M69.8 324.2h2.4M71 323v2.4M73 328.5h2.4M74.2 327.3v2.4M77.8 335.4h2.4M79 334.2v2.4M79.8 335.4h2.4M81 334.2v2.4M81.8 335.4h2.4M83 334.2v2.4M84.8 335.4h2.4M86 334.2v2.4M30.08 290.33h2.4M31.28 289.13v2.4M33.54 293.08h2.4M34.74 291.88v2.4M35.75 297h2.4M36.95 295.8v2.4M38.9 300.16h2.4M40.1 298.96v2.4M43.09 301.64h2.4M44.29 300.44v2.4M47.13 303.61h2.4M48.33 302.41v2.4M50.7 306.35h2.4M51.9 305.15v2.4M54.09 309.3h2.4M55.29 308.1v2.4M57.24 312.52h2.4M58.44 311.32v2.4M60.45 315.67h2.4M61.65 314.47v2.4M63.51 318.96h2.4M64.71 317.76v2.4" stroke="#48c448" stroke-width="0.9" fill="none"/>
<path d="M89.8 335.4h2.4M91 334.2v2.4M94.8 335.4h2.4M96 334.2v2.4M108.8 335.4h2.4M110 334.2v2.4M124.8 335.4h2.4M126 334.2v2.4M206.8 335.4h2.4M208 334.2v2.4" stroke="#68c068" stroke-width="0.9" fill="none"/>
<rect x="286.3" y="283.1" width="221.2" height="182.3" fill="none" stroke="#959595" stroke-width="1.1"/>
<line x1="284" y1="458.5" x2="286.3" y2="458.5" stroke="#959595" stroke-width="0.9"/>
<text x="279.4" y="458.5" font-size="4.4" text-anchor="middle" fill="#505050" stroke="#505050" stroke-width="0.2" font-weight="bold" textLength="5.8" lengthAdjust="spacingAndGlyphs" transform="rotate(-90 279.4 458.5)" dominant-baseline="central">0.0</text>
<line x1="284" y1="424.86" x2="286.3" y2="424.86" stroke="#959595" stroke-width="0.9"/>
<text x="279.4" y="424.86" font-size="4.4" text-anchor="middle" fill="#505050" stroke="#505050" stroke-width="0.2" font-weight="bold" textLength="5.8" lengthAdjust="spacingAndGlyphs" transform="rotate(-90 279.4 424.86)" dominant-baseline="central">0.2</text>
<line x1="284" y1="391.22" x2="286.3" y2="391.22" stroke="#959595" stroke-width="0.9"/>
<text x="279.4" y="391.22" font-size="4.4" text-anchor="middle" fill="#505050" stroke="#505050" stroke-width="0.2" font-weight="bold" textLength="5.8" lengthAdjust="spacingAndGlyphs" transform="rotate(-90 279.4 391.22)" dominant-baseline="central">0.4</text>
<line x1="284" y1="357.58" x2="286.3" y2="357.58" stroke="#959595" stroke-width="0.9"/>
<text x="279.4" y="357.58" font-size="4.4" text-anchor="middle" fill="#505050" stroke="#505050" stroke-width="0.2" font-weight="bold" textLength="5.8" lengthAdjust="spacingAndGlyphs" transform="rotate(-90 279.4 357.58)" dominant-baseline="central">0.6</text>
<line x1="284" y1="323.94" x2="286.3" y2="323.94" stroke="#959595" stroke-width="0.9"/>
<text x="279.4" y="323.94" font-size="4.4" text-anchor="middle" fill="#505050" stroke="#505050" stroke-width="0.2" font-weight="bold" textLength="5.8" lengthAdjust="spacingAndGlyphs" transform="rotate(-90 279.4 323.94)" dominant-baseline="central">0.8</text>
<line x1="284" y1="290.3" x2="286.3" y2="290.3" stroke="#959595" stroke-width="0.9"/>
<text x="279.4" y="290.3" font-size="4.4" text-anchor="middle" fill="#505050" stroke="#505050" stroke-width="0.2" font-weight="bold" textLength="5.8" lengthAdjust="spacingAndGlyphs" transform="rotate(-90 279.4 290.3)" dominant-baseline="central">1.0</text>
<line x1="286.75" y1="465.4" x2="286.75" y2="467.7" stroke="#959595" stroke-width="0.9"/>
<text x="286.75" y="472.4" font-size="5" text-anchor="middle" fill="#505050" stroke="#505050" stroke-width="0.15" font-weight="bold" dominant-baseline="central">0</text>
<line x1="323.17" y1="465.4" x2="323.17" y2="467.7" stroke="#959595" stroke-width="0.9"/>
<text x="323.17" y="472.4" font-size="5" text-anchor="middle" fill="#505050" stroke="#505050" stroke-width="0.15" font-weight="bold" dominant-baseline="central">1</text>
<line x1="359.59" y1="465.4" x2="359.59" y2="467.7" stroke="#959595" stroke-width="0.9"/>
<text x="359.59" y="472.4" font-size="5" text-anchor="middle" fill="#505050" stroke="#505050" stroke-width="0.15" font-weight="bold" dominant-baseline="central">2</text>
<line x1="396.01" y1="465.4" x2="396.01" y2="467.7" stroke="#959595" stroke-width="0.9"/>
<text x="396.01" y="472.4" font-size="5" text-anchor="middle" fill="#505050" stroke="#505050" stroke-width="0.15" font-weight="bold" dominant-baseline="central">3</text>
<line x1="432.43" y1="465.4" x2="432.43" y2="467.7" stroke="#959595" stroke-width="0.9"/>
<text x="432.43" y="472.4" font-size="5" text-anchor="middle" fill="#505050" stroke="#505050" stroke-width="0.15" font-weight="bold" dominant-baseline="central">4</text>
<line x1="468.85" y1="465.4" x2="468.85" y2="467.7" stroke="#959595" stroke-width="0.9"/>
<text x="468.85" y="472.4" font-size="5" text-anchor="middle" fill="#505050" stroke="#505050" stroke-width="0.15" font-weight="bold" dominant-baseline="central">5</text>
<line x1="505.27" y1="465.4" x2="505.27" y2="467.7" stroke="#959595" stroke-width="0.9"/>
<text x="505.27" y="472.4" font-size="5" text-anchor="middle" fill="#505050" stroke="#505050" stroke-width="0.15" font-weight="bold" dominant-baseline="central">6</text>
<text x="396.9" y="273.2" font-size="4.4" text-anchor="middle" fill="#222" stroke="#222" stroke-width="0.2" font-weight="bold" textLength="44.6" lengthAdjust="spacingAndGlyphs" dominant-baseline="central">OS by F1_DNMT mutation</text>
<text x="396.9" y="483.5" font-size="4.5" text-anchor="middle" fill="#555" stroke="#555" stroke-width="0.05" font-weight="bold" textLength="63" lengthAdjust="spacingAndGlyphs" dominant-baseline="central">Time from F1 Sample date (Years)</text>
<text x="268.3" y="374.25" font-size="4.5" text-anchor="middle" fill="#555" stroke="#555" stroke-width="0.05" font-weight="bold" textLength="45.7" lengthAdjust="spacingAndGlyphs" transform="rotate(-90 268.3 374.25)" dominant-baseline="central">Survival probability S(t)</text>
<rect x="441.1" y="283.1" width="66.4" height="26.1" fill="#fff" stroke="#888" stroke-width="0.9"/>
<line x1="445.1" y1="288.5" x2="453.6" y2="288.5" stroke="#9090e0" stroke-width="0.9"/>
<text x="456.5" y="288.5" font-size="4.3" text-anchor="start" fill="#4a4a4a" stroke="#4a4a4a" stroke-width="0.12" textLength="38.4" lengthAdjust="spacingAndGlyphs" dominant-baseline="central">DNMT WT : LowRisk</text>
<line x1="445.1" y1="293.8" x2="453.6" y2="293.8" stroke="#f0a0a8" stroke-width="0.9"/>
<text x="456.5" y="293.8" font-size="4.3" text-anchor="start" fill="#4a4a4a" stroke="#4a4a4a" stroke-width="0.12" textLength="39" lengthAdjust="spacingAndGlyphs" dominant-baseline="central">DNMT WT : HighRisk</text>
<line x1="445.1" y1="298.6" x2="453.6" y2="298.6" stroke="#a8eca8" stroke-width="0.9"/>
<text x="456.5" y="298.6" font-size="4.3" text-anchor="start" fill="#4a4a4a" stroke="#4a4a4a" stroke-width="0.12" textLength="47.6" lengthAdjust="spacingAndGlyphs" dominant-baseline="central">DNMT Mutated : LowRisk</text>
<line x1="445.1" y1="304" x2="453.6" y2="304" stroke="#f8dca8" stroke-width="0.9"/>
<text x="456.5" y="304" font-size="4.3" text-anchor="start" fill="#4a4a4a" stroke="#4a4a4a" stroke-width="0.12" textLength="48" lengthAdjust="spacingAndGlyphs" dominant-baseline="central">DNMT Mutated : HighRisk</text>
<path d="M286.6 289.1 L288.7 296 L290.5 304 L292.9 312 L295 319 L296 321.4 H299.2 V334 L302.3 341 L306.2 349.6 L310.1 356.6 L313.9 360.5 L317.8 366 L321.8 373.1 L324.1 377.8 L325.7 384.1 L329.6 384.9 H332 V401.4 H362.7 V401.4" fill="none" stroke="#f8e6c6" stroke-width="1.2" stroke-linejoin="round"/>
<path d="M299.2 334 L302.3 341 L306.2 349.6 L310.1 356.6 L313.9 360.5 L317.8 366 L321.8 373.1 L324.1 377.8 L325.7 384.1 L329.6 384.9" fill="none" stroke="#f2b45a" stroke-width="0.9" stroke-linejoin="round" stroke-linecap="round"/>
<path d="M306 351.5h2.4M307.2 350.3v2.4M308.9 356.6h2.4M310.1 355.4v2.4M312.7 360.5h2.4M313.9 359.3v2.4M316.6 366h2.4M317.8 364.8v2.4M320.6 373.1h2.4M321.8 371.9v2.4M322.9 377.8h2.4M324.1 376.6v2.4M325.8 384.5h2.4M327 383.3v2.4" stroke="#f2bc66" stroke-width="0.9" fill="none"/>
<path d="M332.8 401.4h2.4M334 400.2v2.4M335.8 401.4h2.4M337 400.2v2.4M339.8 401.4h2.4M341 400.2v2.4M343.8 401.4h2.4M345 400.2v2.4M361.5 401.4h2.4M362.7 400.2v2.4" stroke="#dcb478" stroke-width="0.9" fill="none"/>
<path d="M286.6 289.1 L291.9 292.3 L295 301 L296.6 306.5 L298.2 309.6 L299.7 319.9 L303.7 323 L306.3 329.2 L307.8 337.1 L318.1 337.1 L320.4 343.4 L321 347.9 L323.3 355 L327.3 358.9 L331.2 363.6 L336.7 369.1 L339.9 373.9 L342.2 377.8 L354.1 377.8 H354.5 V404.6 L359.6 404.6" fill="none" stroke="#ebcdd2" stroke-width="1.2" stroke-linejoin="round"/>
<path d="M295 301 L296.6 306.5 L298.2 309.6 L299.7 319.9 L303.7 323 L306.3 329.2 L307.8 337.1 L318.1 337.1 L320.4 343.4 L321 347.9 L323.3 355 L327.3 358.9 L331.2 363.6 L336.7 369.1 L339.9 373.9 L342.2 377.8" fill="none" stroke="#e8848e" stroke-width="0.9" stroke-linejoin="round" stroke-linecap="round"/>
<path d="M295.2 307.5h2.4M296.4 306.3v2.4M299.1 320.8h2.4M300.3 319.6v2.4M302.5 323h2.4M303.7 321.8v2.4M307.8 337.1h2.4M309 335.9v2.4M309.8 337.1h2.4M311 335.9v2.4M311.8 337.1h2.4M313 335.9v2.4M314.8 337.1h2.4M316 335.9v2.4M319.2 343.4h2.4M320.4 342.2v2.4M319.8 347.9h2.4M321 346.7v2.4M322.1 355h2.4M323.3 353.8v2.4M326.1 358.9h2.4M327.3 357.7v2.4M330 363.6h2.4M331.2 362.4v2.4M335.5 369.1h2.4M336.7 367.9v2.4M338.7 373.9h2.4M339.9 372.7v2.4M341 377.8h2.4M342.2 376.6v2.4M342.8 377.8h2.4M344 376.6v2.4M345.8 377.8h2.4M347 376.6v2.4" stroke="#b8202c" stroke-width="0.9" fill="none"/>
<path d="M354.8 404.6h2.4M356 403.4v2.4M358.4 404.6h2.4M359.6 403.4v2.4" stroke="#b86670" stroke-width="0.9" fill="none"/>
<path d="M286.6 289.1 L291.9 292.3 L294.5 296 L297.6 300.9 L300.7 307.3 L304.5 308.4 L309.2 311.2 L313.1 314 L315.5 320.6 L321.8 324.6 L325.9 329.2 L330.7 334 L333.8 338.7 L335.4 341.7 H371.8 V341.7" fill="none" stroke="#d2f0ca" stroke-width="1.2" stroke-linejoin="round"/>
<path d="M300.1 307.3h2.4M301.3 306.1v2.4M301.8 308h2.4M303 306.8v2.4M303.3 308.4h2.4M304.5 307.2v2.4M308 311.2h2.4M309.2 310v2.4M311.9 314h2.4M313.1 312.8v2.4M314.3 320.6h2.4M315.5 319.4v2.4M317.8 323h2.4M319 321.8v2.4M320.6 324.6h2.4M321.8 323.4v2.4M324.7 329.2h2.4M325.9 328v2.4M329.5 334h2.4M330.7 332.8v2.4M332.6 338.7h2.4M333.8 337.5v2.4M335.8 341.7h2.4M337 340.5v2.4M337.8 341.7h2.4M339 340.5v2.4M339.8 341.7h2.4M341 340.5v2.4" stroke="#5ccc5c" stroke-width="0.9" fill="none"/>
<path d="M344.8 341.7h2.4M346 340.5v2.4M353.8 341.7h2.4M355 340.5v2.4M370.6 341.7h2.4M371.8 340.5v2.4" stroke="#68c068" stroke-width="0.9" fill="none"/>
<path d="M286.6 289.1 L291.9 291.9 L295.8 295.1 L301.3 296.2 L304.5 298.6 L308.4 300.2 L311.6 301.7 L313.9 304.9 L315.5 306.9 L318.6 308 L322.8 310.3 L325.9 311.5 L329.9 311.5 L331.3 314.1 L333.3 316.3 H345.6 V316.3 L346.7 322.3 H499.3 V322.3" fill="none" stroke="#a6a4d2" stroke-width="1.2" stroke-linejoin="round"/>
<path d="M286.6 289.1 L291.9 291.9 L295.8 295.1 L301.3 296.2 L304.5 298.6 L308.4 300.2 L311.6 301.7 L313.9 304.9 L315.5 306.9 L318.6 308 L322.8 310.3 L325.9 311.5 L329.9 311.5 L331.3 314.1 L333.3 316.3 H345.6 V316.3 L346.7 322.3" fill="none" stroke="#2a2ac4" stroke-width="2.0" stroke-linejoin="round" stroke-linecap="round"/>
<path d="M287.29 290.15h2.6M288.59 288.85v2.6M291.18 292.38h2.6M292.48 291.08v2.6M294.71 295.14h2.6M296.01 293.84v2.6M299.12 296.02h2.6M300.42 294.72v2.6M302.88 298.36h2.6M304.18 297.06v2.6M307 300.16h2.6M308.3 298.86v2.6M310.8 302.39h2.6M312.1 301.09v2.6M313.48 306h2.6M314.78 304.7v2.6M317.35 308.03h2.6M318.65 306.73v2.6M321.3 310.19h2.6M322.6 308.89v2.6M325.55 311.5h2.6M326.85 310.2v2.6M329.29 312.78h2.6M330.59 311.48v2.6M332.02 316.3h2.6M333.32 315v2.6M336.52 316.3h2.6M337.82 315v2.6M341.02 316.3h2.6M342.32 315v2.6M344.52 317.5h2.6M345.82 316.2v2.6M345.33 321.93h2.6M346.63 320.63v2.6" stroke="#1a1a9a" stroke-width="0.9" fill="none"/>
<path d="M347.7 322.3h2.6M349 321v2.6M349.7 322.3h2.6M351 321v2.6M351.7 322.3h2.6M353 321v2.6M354.2 322.3h2.6M355.5 321v2.6M356.7 322.3h2.6M358 321v2.6M359.7 322.3h2.6M361 321v2.6M362.7 322.3h2.6M364 321v2.6M365.7 322.3h2.6M367 321v2.6M463.7 322.3h2.6M465 321v2.6M498 322.3h2.6M499.3 321v2.6" stroke="#6262b0" stroke-width="0.9" fill="none"/>
<text x="8" y="11.9" font-size="13.7" fill="#111" stroke="#111" stroke-width="0.3">A<tspan dx="0.5" font-size="12.8">)</tspan></text>
<text x="266.3" y="11.9" font-size="13.7" fill="#111" stroke="#111" stroke-width="0.3">B<tspan dx="0.5" font-size="12.8">)</tspan></text>
<text x="8.2" y="257.6" font-size="13.7" fill="#111" stroke="#111" stroke-width="0.3">C<tspan dx="0.5" font-size="12.8">)</tspan></text>
<text x="266.5" y="257.3" font-size="13.7" fill="#111" stroke="#111" stroke-width="0.3">D<tspan dx="0.5" font-size="12.8">)</tspan></text>
</g>
</svg></body></html>
